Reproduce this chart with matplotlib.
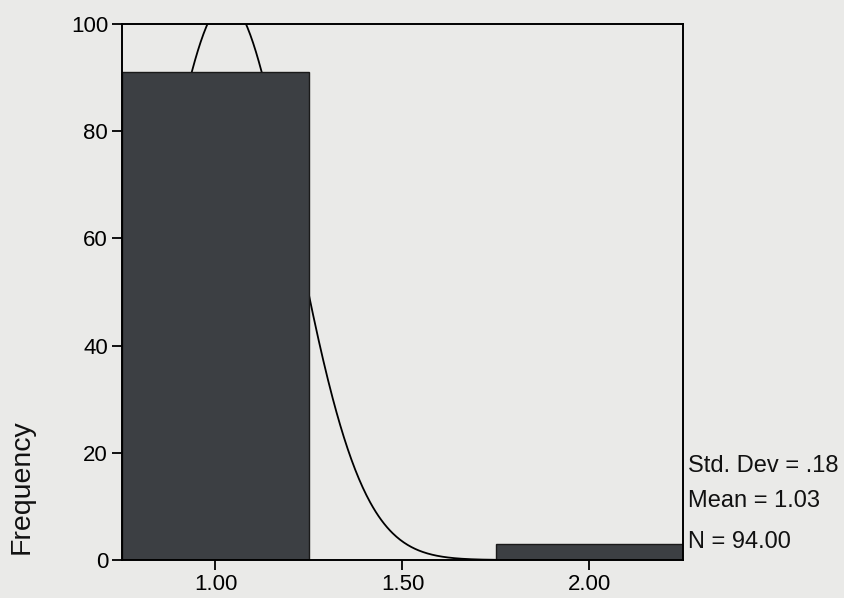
import numpy as np
import matplotlib
matplotlib.use("Agg")
import matplotlib.pyplot as plt

# ---- data ----
bin_centers = [1.00, 2.00]
frequencies = [91, 3]
bin_width = 0.5
x_ticks = [1.00, 1.50, 2.00]
x_tick_labels = ["1.00", "1.50", "2.00"]
y_ticks = [0, 20, 40, 60, 80, 100]
std_dev = 0.18
mean = 1.03
n_total = 94.00
stats_labels = ["Std. Dev = .18", "Mean = 1.03", "N = 94.00"]

plt.rcParams['font.family'] = ['Liberation Sans', 'DejaVu Sans']

bg = '#eaeae8'
fig = plt.figure(figsize=(8.45, 5.98), dpi=100, facecolor=bg)
ax = fig.add_axes([122/845, 1-560/598, (683-122)/845, (560-24)/598])
ax.set_facecolor(bg)

ax.bar(bin_centers, frequencies, width=bin_width, color='#3c3f43',
       edgecolor='#1a1a1a', linewidth=1.0, zorder=3)

xs = np.linspace(0.75, 2.25, 600)
curve = n_total * bin_width * np.exp(-0.5 * ((xs - mean) / std_dev) ** 2) / (std_dev * np.sqrt(2 * np.pi))
ax.plot(xs, curve, color='black', linewidth=1.3, zorder=2)

ax.set_xlim(0.75, 2.25)
ax.set_ylim(0, 100)
ax.set_xticks(x_ticks)
ax.set_xticklabels(x_tick_labels)
ax.set_yticks(y_ticks)
ax.tick_params(axis='both', direction='out', length=7, width=1.3, colors='black',
               labelsize=16, pad=3)
for s in ax.spines.values():
    s.set_linewidth(1.4)
    s.set_color('black')
    s.set_zorder(4)

fig.text(22/845, 1-487/598, "Frequency", rotation=90, ha='center', va='center',
         fontsize=20.5, color='#111111')

ys = [472, 507, 548]
for lab, y in zip(stats_labels, ys):
    fig.text(688/845, 1-y/598, lab, ha='left', va='baseline', fontsize=17, color='#111111')

fig.savefig("out.png", dpi=100, facecolor=bg)
